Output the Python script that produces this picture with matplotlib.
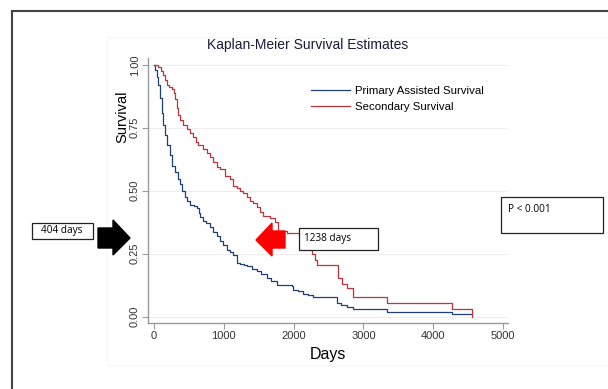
import matplotlib.pyplot as plt
from matplotlib.patches import Polygon, Rectangle

# Kaplan-Meier estimates (days, survival)
primary_days = [0, 20, 40, 62, 85, 110, 135, 158, 190, 229, 265, 301, 340, 372, 404,
                440, 468, 520, 570, 611, 640, 659, 700, 750, 802, 850, 900, 946, 990,
                1041, 1090, 1137, 1184, 1230, 1290, 1328, 1400, 1471, 1540, 1614, 1680,
                1757, 1972, 1996, 2060, 2140, 2200, 2283, 2618, 2680, 2761, 2857, 3334,
                4265, 4560]
primary_surv = [1.0, 0.98, 0.95, 0.92, 0.87, 0.81, 0.76, 0.72, 0.68, 0.64, 0.60, 0.575,
                0.545, 0.525, 0.50, 0.475, 0.46, 0.445, 0.44, 0.43, 0.41, 0.395, 0.38,
                0.37, 0.355, 0.335, 0.32, 0.30, 0.285, 0.265, 0.255, 0.245, 0.215, 0.21,
                0.205, 0.20, 0.19, 0.18, 0.17, 0.155, 0.14, 0.125, 0.12, 0.105, 0.10,
                0.09, 0.085, 0.078, 0.055, 0.048, 0.04, 0.031, 0.017, 0.011, 0.011]

secondary_days = [0, 60, 100, 134, 160, 181, 220, 253, 280, 301, 325, 350, 372, 420,
                  468, 520, 563, 600, 635, 700, 754, 800, 850, 900, 946, 1017, 1089,
                  1137, 1185, 1238, 1280, 1330, 1375, 1420, 1471, 1520, 1566, 1662, 1733,
                  1781, 1900, 2092, 2188, 2259, 2300, 2331, 2642, 2700, 2761, 2857, 3342,
                  4265, 4560]
secondary_surv = [1.0, 0.99, 0.975, 0.96, 0.94, 0.92, 0.91, 0.905, 0.89, 0.866, 0.83,
                  0.80, 0.78, 0.76, 0.745, 0.73, 0.714, 0.695, 0.68, 0.665, 0.65, 0.635,
                  0.615, 0.595, 0.585, 0.56, 0.545, 0.52, 0.51, 0.50, 0.49, 0.475, 0.46,
                  0.45, 0.435, 0.415, 0.40, 0.39, 0.375, 0.34, 0.333, 0.317, 0.28, 0.25,
                  0.225, 0.205, 0.152, 0.13, 0.113, 0.077, 0.056, 0.029, 0.0]

x_ticks = [0, 1000, 2000, 3000, 4000, 5000]
y_ticks = [0.0, 0.25, 0.50, 0.75, 1.0]
y_tick_labels = ["0.00", "0.25", "0.50", "0.75", "1.00"]

W, H = 608, 389
BLUE = "#1f3f78"
RED = "#c0323e"
GRAY = "#9a9a9a"
FONT = ["Liberation Sans Narrow", "Liberation Sans", "DejaVu Sans"]
BOXFONT = ["Open Sans", "DejaVu Sans"]


def fx(px):
    return px / W


def fy(py):
    return 1 - py / H


fig = plt.figure(figsize=(W / 100, H / 100), dpi=100)
fig.patch.set_facecolor("white")

# outer frame of the screenshot and faint graph region
fig.add_artist(Rectangle((fx(12), fy(395)), fx(620) - fx(12), fy(11) - fy(395),
                         transform=fig.transFigure, fill=False, edgecolor="#444444",
                         linewidth=1.5))
fig.add_artist(Rectangle((fx(107), fy(365)), fx(640) - fx(107), fy(37) - fy(365),
                         transform=fig.transFigure, fill=False, edgecolor="#f7f7f7",
                         linewidth=0.8))

ax = fig.add_axes([fx(148), fy(322.7), fx(508) - fx(148), fy(58) - fy(322.7)])
ax.step(primary_days, primary_surv, where="post", color=BLUE, linewidth=0.9,
        label="Primary Assisted Survival")
ax.step(secondary_days, secondary_surv, where="post", color=RED, linewidth=0.9,
        label="Secondary Survival")

ax.set_xlim(-86, 5072)
ax.set_ylim(-0.024, 1.027)
ax.set_xticks(x_ticks)
ax.set_yticks(y_ticks)
ax.set_yticklabels(y_tick_labels, rotation=90, va="center", family=FONT, fontsize=8)
for lab in ax.get_xticklabels():
    lab.set_family(FONT)
    lab.set_fontsize(8)
ax.tick_params(colors="#333333", length=4, width=0.8, pad=2)
ax.tick_params(axis="both", color=GRAY)
ax.grid(axis="y", color="#eeeeee", linewidth=0.8)
ax.set_axisbelow(True)
for side in ["top", "right"]:
    ax.spines[side].set_visible(False)
for side in ["left", "bottom"]:
    ax.spines[side].set_color(GRAY)
    ax.spines[side].set_linewidth(1.0)

ax.set_xlabel("Days", family=FONT, fontsize=11.5, labelpad=4)
fig.text(fx(122), fy(117), "Survival", rotation=90, ha="center", va="center",
         family=FONT, fontsize=10.5)
fig.text(fx(308), fy(45), "Kaplan-Meier Survival Estimates", ha="center",
         va="center", family=FONT, fontsize=10, color="#1a1a3a")

ax.legend(loc="upper left", bbox_to_anchor=(fx(311), fy(86)),
          bbox_transform=fig.transFigure, borderaxespad=0, borderpad=0,
          frameon=False, prop={"family": FONT, "size": 8.2}, handlelength=3.4,
          handletextpad=0.5, labelspacing=0.55)


# annotation boxes
def text_box(x0, y0, x1, y1, txt, tx, ty, va="center"):
    fig.add_artist(Rectangle((fx(x0), fy(y1)), fx(x1) - fx(x0), fy(y0) - fy(y1),
                             transform=fig.transFigure, facecolor="white",
                             edgecolor="#222222", linewidth=0.9))
    fig.text(fx(tx), fy(ty), txt, ha="left", va=va, family=BOXFONT, fontsize=7.2)


text_box(32, 223, 93, 239, "404 days", 41, 231)
text_box(299, 228, 378, 250, "1238 days", 304, 239)
text_box(501, 197, 603, 233, "P < 0.001", 508, 209)

# block arrows
black_arrow = [(98, 228), (113, 228), (113, 220), (130, 238), (113, 255),
               (113, 248), (98, 248)]
red_arrow = [(285, 231), (272, 231), (272, 223), (256, 240), (272, 256),
             (272, 248), (285, 248)]
fig.add_artist(Polygon([(fx(a), fy(b)) for a, b in black_arrow], closed=True,
                       transform=fig.transFigure, facecolor="black", edgecolor="black"))
fig.add_artist(Polygon([(fx(a), fy(b)) for a, b in red_arrow], closed=True,
                       transform=fig.transFigure, facecolor="#ff0000", edgecolor="#ff0000"))

fig.savefig("out.png", dpi=100)
